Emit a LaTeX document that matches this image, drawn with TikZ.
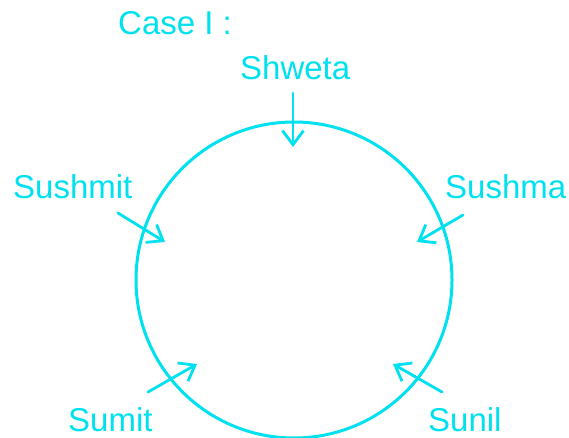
\documentclass[tikz,border=0pt]{standalone}
\usepackage{fontspec}
\setmainfont{Liberation Sans}
\usetikzlibrary{arrows.meta}
\definecolor{cy}{RGB}{0,225,240}
\begin{document}
\begin{tikzpicture}[x=1pt,y=-1pt,
  lbl/.style={text=cy,inner sep=0pt,anchor=base west,font=\fontsize{33}{40}\selectfont},
  arr/.style={draw=cy,line width=2.8pt,line cap=round,-{Straight Barb[length=14pt,width=21pt,line width=2.8pt]}}]
\useasboundingbox (0,0) rectangle (569,438);
\draw[cy,line width=3pt] (294,280) circle (158);
\node[lbl] (case) at (118,35) {Case I :};
\node[lbl] (shweta) at (240,80) {Shweta};
\node[lbl] (sushmit) at (13,198) {Sushmit};
\node[lbl] (sushma) at (445,198) {Sushma};
\node[lbl] (sumit) at (68,431) {Sumit};
\node[lbl] (sunil) at (428,431) {Sunil};
\coordinate (a1) at (293,93);  \coordinate (b1) at (293,147);
\coordinate (a2) at (118,213); \coordinate (b2) at (165,242);
\coordinate (a3) at (463,215); \coordinate (b3) at (417,242);
\coordinate (a4) at (148,392); \coordinate (b4) at (197,364);
\coordinate (a5) at (442,392); \coordinate (b5) at (393,364);
\draw[arr] (a1) -- (b1);
\draw[arr] (a2) -- (b2);
\draw[arr] (a3) -- (b3);
\draw[arr] (a4) -- (b4);
\draw[arr] (a5) -- (b5);
\end{tikzpicture}
\end{document}
